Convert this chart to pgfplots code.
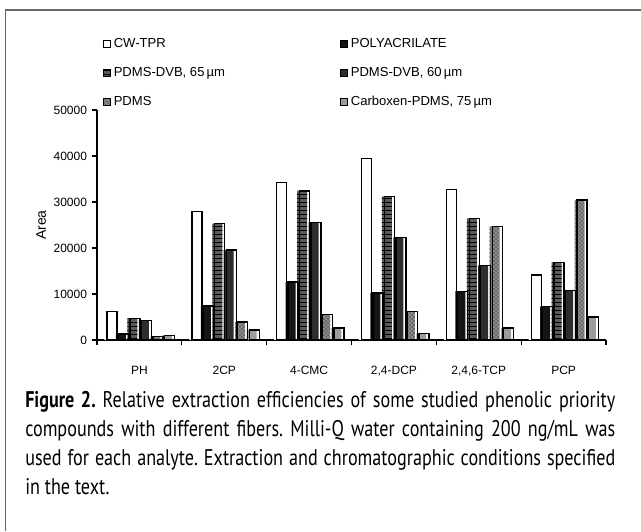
\documentclass[border=0pt]{standalone}
\usepackage{fontspec}
\setmainfont{Liberation Sans}
\newfontfamily\capfont[FakeStretch=0.8]{PT Sans}
\usepackage{pgfplots}
\pgfplotsset{compat=1.18}
\usetikzlibrary{patterns}
\definecolor{cpoly}{HTML}{151515}
\definecolor{cdvbA}{HTML}{5A5A5A}
\definecolor{cdvbB}{HTML}{2E2E2E}
\definecolor{cpdms}{HTML}{8C8C8C}
\definecolor{ccarb}{HTML}{9C9C9C}
\pgfplotstableread{
x cw poly dvba dvbb pdms carb
0 6200 1300 4700 4300 700 1000
1 27900 7400 25300 19600 3900 2200
2 34300 12600 32400 25500 5500 2600
3 39500 10200 31200 22300 6200 1400
4 32700 10600 26400 16200 24700 2600
5 14100 7300 16800 10800 30400 5000
}\datatable
\begin{document}
\frenchspacing
\begin{tikzpicture}
\useasboundingbox (0pt,0pt) rectangle (480.75pt,398.25pt);
\fill[white] (0pt,0pt) rectangle (480.75pt,398.25pt);
\draw[line width=1.2pt, black!60] (4.2pt,0pt) -- (4.2pt,390.75pt) -- (480.75pt,390.75pt);
\begin{axis}[
  at={(72.75pt,143.25pt)}, anchor=south west,
  scale only axis, width=381.75pt, height=172.5pt,
  axis x line=bottom, axis y line=left,
  axis line style={line width=0.9pt,-},
  every tick/.style={line width=0.9pt, black},
  tick align=outside, major tick length=4pt,
  xmin=-0.5, xmax=5.5, ymin=0, ymax=50000,
  xtick={-0.5,0.5,...,5.5}, xticklabels={},
  extra x ticks={0,1,2,3,4,5},
  extra x tick labels={PH,2CP,4-CMC,{2,4-DCP},{2,4,6-TCP},PCP},
  extra x tick style={major tick length=0pt, tick label style={yshift=-16pt}},
  ytick={0,10000,...,50000},
  scaled y ticks=false,
  /pgf/number format/1000 sep={},
  /pgf/number format/assume math mode=true,
  tick label style={font=\fontsize{9}{10.8}\selectfont},
  ylabel={Area},
  ylabel style={at={(axis description cs:-0.11,0.5)}, anchor=center, font=\fontsize{10.5}{12}\selectfont},
  clip=false,
  legend columns=2,
  legend style={at={(axis description cs:0.012,1.326)}, anchor=north west, draw=none, fill=none,
    font=\fontsize{9.8}{11}\selectfont, row sep=9.5pt, inner sep=0pt,
    /tikz/every even column/.append style={column sep=0pt}},
  legend cell align=left,
  legend image code/.code={\draw[#1, draw=black, line width=0.6pt] (0pt,-2.6pt) rectangle (5.2pt,2.6pt);},
]
% fills
\addplot[ybar, bar width=7.5pt, bar shift=-22.45pt, fill=white, draw=none] table[x=x,y=cw] {\datatable};
\addplot[ybar, bar width=7.5pt, bar shift=-13.85pt, fill=cpoly, draw=none] table[x=x,y=poly] {\datatable};
\addplot[ybar, bar width=7.5pt, bar shift=-5.25pt, fill=cdvbA, draw=none, postaction={pattern=horizontal lines, pattern color=black}] table[x=x,y=dvba] {\datatable};
\addplot[ybar, bar width=7.5pt, bar shift=3.35pt, fill=cdvbB, draw=none] table[x=x,y=dvbb] {\datatable};
\addplot[ybar, bar width=7.5pt, bar shift=11.95pt, fill=cpdms, draw=none, postaction={pattern=crosshatch dots, pattern color=black}] table[x=x,y=pdms] {\datatable};
\addplot[ybar, bar width=7.5pt, bar shift=20.55pt, fill=ccarb, draw=none] table[x=x,y=carb] {\datatable};
% outlines
\addplot[ybar, forget plot, bar width=7.5pt, bar shift=-20.55pt, fill=none, draw=black, line width=1pt] table[x=x,y=cw] {\datatable};
\addplot[ybar, forget plot, bar width=7.5pt, bar shift=-11.95pt, fill=none, draw=black, line width=1pt] table[x=x,y=poly] {\datatable};
\addplot[ybar, forget plot, bar width=7.5pt, bar shift=-3.35pt, fill=none, draw=black, line width=1pt] table[x=x,y=dvba] {\datatable};
\addplot[ybar, forget plot, bar width=7.5pt, bar shift=5.25pt, fill=none, draw=black, line width=1pt] table[x=x,y=dvbb] {\datatable};
\addplot[ybar, forget plot, bar width=7.5pt, bar shift=13.85pt, fill=none, draw=black, line width=1pt] table[x=x,y=pdms] {\datatable};
\addplot[ybar, forget plot, bar width=7.5pt, bar shift=22.45pt, fill=none, draw=black, line width=1pt] table[x=x,y=carb] {\datatable};
\legend{\makebox[168pt][l]{CW-TPR}, POLYACRILATE, \makebox[168pt][l]{PDMS-DVB, 65\,µm}, {PDMS-DVB, 60\,µm}, \makebox[168pt][l]{PDMS}, {Carboxen-PDMS, 75\,µm}}
\end{axis}
\node[anchor=north west, inner sep=0pt, text width=442.5pt, align=justify,
  font=\capfont\fontsize{17}{21.75}\selectfont] at (18.75pt,104.75pt)
  {\textbf{Figure 2.} Relative extraction efficiencies of some studied phenolic priority\linebreak
   compounds with different fibers. Milli-Q water containing 200 ng/mL was\linebreak
   used for each analyte. Extraction and chromatographic conditions specified\linebreak
   in the text.};
\end{tikzpicture}
\end{document}
